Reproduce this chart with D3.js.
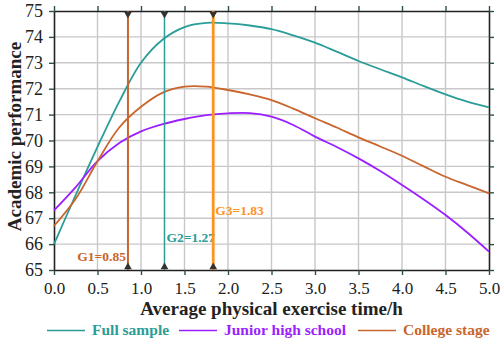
<!DOCTYPE html>
<html>
<head>
<meta charset="utf-8">
<script src="https://cdn.jsdelivr.net/npm/d3@7"></script>
<style>
  body { margin: 0; background: #fff; }
</style>
</head>
<body>
<div id="chart"></div>
<script>
// hours of exercise per day, sampled every quarter hour
const hours = [0, 0.25, 0.5, 0.75, 1.0, 1.25, 1.5, 1.75, 2.0, 2.25, 2.5,
  2.75, 3.0, 3.25, 3.5, 3.75, 4.0, 4.25, 4.5, 4.75, 5.0]

const fullSample = [66.0, 67.9, 69.75, 71.5, 73.0, 73.9, 74.38, 74.54, 74.52, 74.44, 74.3,
  74.06, 73.78, 73.43, 73.07, 72.75, 72.44, 72.1, 71.78, 71.5, 71.28]
const juniorHigh = [67.3, 68.2, 69.2, 69.9, 70.35, 70.63, 70.83, 70.98, 71.05, 71.06, 70.92,
  70.6, 70.15, 69.75, 69.31, 68.82, 68.28, 67.72, 67.12, 66.45, 65.71]
const college = [66.7, 67.75, 69.2, 70.5, 71.3, 71.85, 72.08, 72.08, 71.95, 71.78, 71.56,
  71.23, 70.86, 70.5, 70.12, 69.77, 69.41, 69.0, 68.6, 68.28, 67.96]

const seriesNames = ["Full sample", "Junior high school", "College stage"]
const seriesColors = ["#2a9d98", "#9b1fff", "#c9652d"]

// turning points
const gNames = ["G1", "G2", "G3"]
const gValues = [0.85, 1.27, 1.83]
const gColors = ["#c9652d", "#2a9d98", "#ff931f"]

const xTicks = [0, 0.5, 1, 1.5, 2, 2.5, 3, 3.5, 4, 4.5, 5]
const yTicks = [65, 66, 67, 68, 69, 70, 71, 72, 73, 74, 75]

const font = '"Liberation Serif", "Times New Roman", serif'
const width = 500, height = 341
const margin = {top: 11, right: 11, bottom: 71, left: 54}
const w = width - margin.left - margin.right,
    h = height - margin.top - margin.bottom

const svg = d3.select("#chart").append("svg")
    .attr("width", width)
    .attr("height", height)

const g = svg.append("g")
    .attr("transform", "translate(" + margin.left + "," + margin.top + ")")

const x = d3.scaleLinear().domain([0, 5]).range([0, w])
const y = d3.scaleLinear().domain([65, 75]).range([h, 0])

// grid
const grid = g.append("g").attr("class", "grid")
grid.selectAll("line.v").data(xTicks.slice(1, -1)).enter()
  .append("line")
    .attr("class", "v")
    .attr("x1", d => x(d)).attr("x2", d => x(d))
    .attr("y1", 0).attr("y2", h)
grid.selectAll("line.h").data(yTicks.slice(1, -1)).enter()
  .append("line")
    .attr("class", "h")
    .attr("x1", 0).attr("x2", w)
    .attr("y1", d => y(d)).attr("y2", d => y(d))
grid.selectAll("line").style("stroke", "#c8c8c8").style("stroke-width", 1.4)

// axes on all four sides
const axB = g.append("g")
    .attr("transform", "translate(0," + h + ")")
    .call(d3.axisBottom(x).tickValues(xTicks).tickFormat(d3.format(".1f")).tickSizeInner(5).tickSizeOuter(0).tickPadding(7))
const axL = g.append("g")
    .call(d3.axisLeft(y).tickValues(yTicks).tickFormat(d3.format("d")).tickSizeInner(5).tickSizeOuter(0).tickPadding(6))
const axT = g.append("g")
    .call(d3.axisTop(x).tickValues(xTicks).tickFormat("").tickSizeInner(5).tickSizeOuter(0))
const axR = g.append("g")
    .attr("transform", "translate(" + w + ",0)")
    .call(d3.axisRight(y).tickValues(yTicks).tickFormat("").tickSizeInner(5).tickSizeOuter(0))

;[axB, axL, axT, axR].forEach(a => {
  a.attr("font-family", null)
  a.select(".domain").style("stroke", "#222").style("stroke-width", 1.6)
  a.selectAll(".tick line").style("stroke", "#2c4f4e").style("stroke-width", 1.4)
  a.selectAll(".tick text")
    .style("font-family", font)
    .style("font-size", "17px")
    .style("fill", "#222")
})
axL.selectAll(".tick text").style("font-size", "18px")

// curves
const line = d3.line()
    .curve(d3.curveCatmullRom)
    .x((d, i) => x(hours[i]))
    .y(d => y(d))

g.append("g").attr("class", "lines")
  .selectAll("path").data([fullSample, juniorHigh, college]).enter()
  .append("path")
    .attr("d", d => line(d))
    .style("fill", "none")
    .style("stroke", (d, i) => seriesColors[i])
    .style("stroke-width", 1.8)

// turning point markers
const marks = g.append("g").attr("class", "marks")
  .selectAll("g").data(gValues).enter().append("g")

marks.append("line")
    .attr("x1", d => x(d)).attr("x2", d => x(d))
    .attr("y1", 0).attr("y2", h)
    .style("stroke", (d, i) => gColors[i])
    .style("stroke-width", (d, i) => [2, 1.5, 2.8][i])

const tri = d3.symbol().type(d3.symbolTriangle).size(26)
marks.append("path")
    .attr("d", tri)
    .attr("transform", d => "translate(" + x(d) + ",3) rotate(180)")
    .style("fill", "#333")
marks.append("path")
    .attr("d", tri)
    .attr("transform", d => "translate(" + x(d) + "," + (h - 3) + ")")
    .style("fill", "#333")

const labelY = [250, 231, 204]
marks.append("text")
    .attr("x", (d, i) => i === 0 ? x(d) - 2 : x(d) + 2)
    .attr("y", (d, i) => labelY[i])
    .attr("text-anchor", (d, i) => i === 0 ? "end" : "start")
    .style("font-family", font)
    .style("font-size", "13.5px")
    .style("font-weight", "bold")
    .style("fill", (d, i) => gColors[i])
    .text((d, i) => gNames[i] + "=" + d.toFixed(2))

// axis titles
svg.append("text")
    .attr("x", margin.left + w / 2)
    .attr("y", 315)
    .attr("text-anchor", "middle")
    .style("font-family", font)
    .style("font-size", "19px")
    .style("font-weight", "bold")
    .style("fill", "#222")
    .text("Average physical exercise time/h")

svg.append("text")
    .attr("transform", "translate(21," + (margin.top + h / 2 - 4) + ") rotate(-90)")
    .attr("text-anchor", "middle")
    .style("font-family", font)
    .style("font-size", "19px")
    .style("font-weight", "bold")
    .style("fill", "#222")
    .text("Academic performance")

// legend
const legX = [47, 179, 358]
const leg = svg.append("g").attr("class", "legend")
  .selectAll("g").data(seriesNames).enter().append("g")
    .attr("transform", (d, i) => "translate(" + legX[i] + ",335)")
leg.append("line")
    .attr("x1", 0).attr("x2", 38)
    .attr("y1", -4.5).attr("y2", -4.5)
    .style("stroke", (d, i) => seriesColors[i])
    .style("stroke-width", 1.6)
leg.append("text")
    .attr("x", 45)
    .style("font-family", font)
    .style("font-size", "15.5px")
    .style("font-weight", "bold")
    .style("fill", (d, i) => seriesColors[i])
    .text(d => d)
</script>
</body>
</html>
